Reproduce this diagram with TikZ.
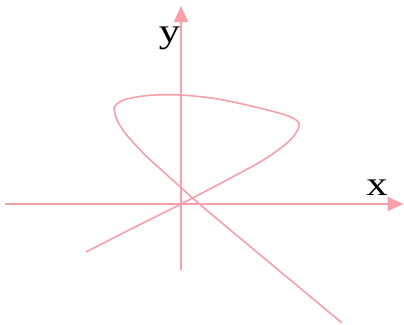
\documentclass[tikz,border=0pt]{standalone}
\usepackage{fontspec}
\setmainfont{Liberation Serif}
\usetikzlibrary{arrows.meta}
\definecolor{PlotPink}{HTML}{F6A0A9}
\tikzset{
  plotaxis/.style={
    draw=PlotPink,
    line width=1.9pt,
    -{Triangle[length=16pt,width=14pt]}
  },
  plotcurve/.style={draw=PlotPink,line width=1.6pt},
  plotlabel/.style={
    font=\fontsize{34}{38}\selectfont,
    text=black,
    inner sep=0pt,
    anchor=base,
    xscale=1.25,
    transform shape
  }
}

\begin{document}
\begin{tikzpicture}[x=1pt,y=-1pt]
  \useasboundingbox (0,0) rectangle (404,324);

  \coordinate (xstart) at (5,204);
  \coordinate (xend) at (403.5,204);
  \coordinate (ystart) at (181,270);
  \coordinate (yend) at (181,6);

  \draw[plotaxis] (xstart) -- (xend);
  \draw[plotaxis] (ystart) -- (yend);

  \node[plotlabel] (xlabel) at (377,195.5) {x};
  \node[plotlabel] (ylabel) at (169.5,42) {y};

  \draw[plotcurve] plot[smooth,tension=0.55] coordinates {
    (86,252) (133,228) (181,204) (230,178.3) (263.3,160) (286.7,143.3)
    (296.7,131.7) (299,123.5) (293.3,118.3) (280,113.3) (246.7,105)
    (213.3,98.3) (180,95) (150,95.3) (125,99.5) (115,106) (114.5,111)
    (117,120) (125,133) (138.3,148) (150,159.7) (181,187.5) (210,213)
    (341.7,322.7)
  };
\end{tikzpicture}
\end{document}
